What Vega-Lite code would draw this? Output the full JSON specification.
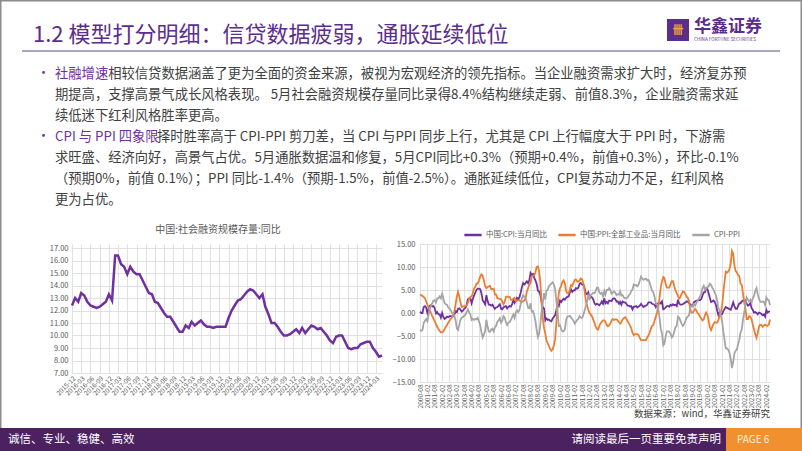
{
"$schema":"https://vega.github.io/schema/vega-lite/v6.json",
"padding":0,
"background":"white",
"spacing":38,
"bounds":"flush",
"resolve":{"legend":{"color":"independent"}},
"config":{"font":"Noto Sans CJK SC","view":{"stroke":null},
 "axis":{"labelColor":"#595959","labelFont":"Noto Sans CJK SC","gridColor":"#D9D9D9","gridWidth":0.8,"domain":false,"ticks":false,"title":null,"labelOverlap":false,"labelFlush":false,"labelBound":false}},
"hconcat":[
{
 "width":310,"height":129,
 "resolve":{"scale":{"x":"independent","y":"independent"}},
 "layer":[
  {"data":{"values":[{}]},"mark":{"type":"rect","filled":false,"color":"#8C8C8C","strokeWidth":1.5},
   "encoding":{"x":{"datum":0.75,"type":"quantitative","scale":{"domain":[72,382],"nice":false,"zero":false},"axis":null},"x2":{"datum":801.25},
   "y":{"datum":0.75,"type":"quantitative","scale":{"domain":[244,373],"nice":false,"zero":false,"reverse":true},"axis":null},"y2":{"datum":450.25}}},
  {"data":{"values":[{}]},"mark":{"type":"text","align":"left","baseline":"middle","fontSize":22,"color":"#5B2D8E"},
   "encoding":{"x":{"datum":33,"type":"quantitative","scale":{"domain":[72,382],"nice":false,"zero":false},"axis":null},
   "y":{"datum":35,"type":"quantitative","scale":{"domain":[244,373],"nice":false,"zero":false,"reverse":true},"axis":null},
   "text":{"value":"1.2 模型打分明细：信贷数据疲弱，通胀延续低位"}}},
  {"data":{"values":[{}]},"mark":{"type":"rule","color":"#A9A6C6","strokeWidth":2},
   "encoding":{"x":{"datum":22,"type":"quantitative","scale":{"domain":[72,382],"nice":false,"zero":false},"axis":null},"x2":{"datum":780},
   "y":{"datum":51,"type":"quantitative","scale":{"domain":[244,373],"nice":false,"zero":false,"reverse":true},"axis":null}}},
  {"data":{"values":[{}]},"mark":{"type":"rect","color":"#5B2D8E"},
   "encoding":{"x":{"datum":667,"type":"quantitative","scale":{"domain":[72,382],"nice":false,"zero":false},"axis":null},"x2":{"datum":689},
   "y":{"datum":19,"type":"quantitative","scale":{"domain":[244,373],"nice":false,"zero":false,"reverse":true},"axis":null},"y2":{"datum":41}}},
  {"data":{"values":[{}]},"mark":{"type":"text","align":"center","baseline":"middle","fontSize":11,"fontWeight":"bold","color":"#F3A33B"},
   "encoding":{"x":{"datum":678,"type":"quantitative","scale":{"domain":[72,382],"nice":false,"zero":false},"axis":null},
   "y":{"datum":31,"type":"quantitative","scale":{"domain":[244,373],"nice":false,"zero":false,"reverse":true},"axis":null},
   "text":{"value":"卌"}}},
  {"data":{"values":[{}]},"mark":{"type":"text","align":"left","baseline":"middle","fontSize":17,"fontWeight":"bold","color":"#5B2D8E"},
   "encoding":{"x":{"datum":694,"type":"quantitative","scale":{"domain":[72,382],"nice":false,"zero":false},"axis":null},
   "y":{"datum":27,"type":"quantitative","scale":{"domain":[244,373],"nice":false,"zero":false,"reverse":true},"axis":null},
   "text":{"value":"华鑫证券"}}},
  {"data":{"values":[{}]},"mark":{"type":"text","align":"left","baseline":"middle","fontSize":4.6,"color":"#5B2D8E"},
   "encoding":{"x":{"datum":694,"type":"quantitative","scale":{"domain":[72,382],"nice":false,"zero":false},"axis":null},
   "y":{"datum":40,"type":"quantitative","scale":{"domain":[244,373],"nice":false,"zero":false,"reverse":true},"axis":null},
   "text":{"value":"CHINA FORTUNE SECURITIES"}}},
  {"data":{"values":[{}]},"mark":{"type":"text","align":"left","baseline":"top","fontSize":13,"color":"#7030A0"},
   "encoding":{"x":{"datum":37,"type":"quantitative","scale":{"domain":[72,382],"nice":false,"zero":false},"axis":null},
   "y":{"datum":67,"type":"quantitative","scale":{"domain":[244,373],"nice":false,"zero":false,"reverse":true},"axis":null},
   "text":{"value":"•"}}},
  {"data":{"values":[{}]},"mark":{"type":"text","align":"left","baseline":"top","fontSize":13,"color":"#7030A0"},
   "encoding":{"x":{"datum":37,"type":"quantitative","scale":{"domain":[72,382],"nice":false,"zero":false},"axis":null},
   "y":{"datum":130,"type":"quantitative","scale":{"domain":[244,373],"nice":false,"zero":false,"reverse":true},"axis":null},
   "text":{"value":"•"}}},
  {"data":{"values":[{}]},"mark":{"type":"text","align":"left","baseline":"top","fontSize":13.3,"color":"#7030A0"},
   "encoding":{"x":{"datum":55,"type":"quantitative","scale":{"domain":[72,382],"nice":false,"zero":false},"axis":null},
   "y":{"datum":67,"type":"quantitative","scale":{"domain":[244,373],"nice":false,"zero":false,"reverse":true},"axis":null},
   "text":{"value":"社融增速"}}},
  {"data":{"values":[{}]},"mark":{"type":"text","align":"left","baseline":"top","fontSize":13.3,"color":"#404040"},
   "encoding":{"x":{"datum":108.2,"type":"quantitative","scale":{"domain":[72,382],"nice":false,"zero":false},"axis":null},
   "y":{"datum":67,"type":"quantitative","scale":{"domain":[244,373],"nice":false,"zero":false,"reverse":true},"axis":null},
   "text":{"value":"相较信贷数据涵盖了更为全面的资金来源，被视为宏观经济的领先指标。当企业融资需求扩大时，经济复苏预"}}},
  {"data":{"values":[{}]},"mark":{"type":"text","align":"left","baseline":"top","fontSize":13.3,"lineHeight":21,"color":"#404040"},
   "encoding":{"x":{"datum":55,"type":"quantitative","scale":{"domain":[72,382],"nice":false,"zero":false},"axis":null},
   "y":{"datum":88,"type":"quantitative","scale":{"domain":[244,373],"nice":false,"zero":false,"reverse":true},"axis":null},
   "text":{"value":["期提高，支撑高景气成长风格表现。 5月社会融资规模存量同比录得8.4%结构继续走弱、前值8.3%，企业融资需求延","续低迷下红利风格胜率更高。"]}}},
  {"data":{"values":[{}]},"mark":{"type":"text","align":"left","baseline":"top","fontSize":13.3,"color":"#7030A0"},
   "encoding":{"x":{"datum":55,"type":"quantitative","scale":{"domain":[72,382],"nice":false,"zero":false},"axis":null},
   "y":{"datum":130,"type":"quantitative","scale":{"domain":[244,373],"nice":false,"zero":false,"reverse":true},"axis":null},
   "text":{"value":"CPI 与 PPI 四象限"}}},
  {"data":{"values":[{}]},"mark":{"type":"text","align":"left","baseline":"top","fontSize":13.3,"color":"#404040"},
   "encoding":{"x":{"datum":157,"type":"quantitative","scale":{"domain":[72,382],"nice":false,"zero":false},"axis":null},
   "y":{"datum":130,"type":"quantitative","scale":{"domain":[244,373],"nice":false,"zero":false,"reverse":true},"axis":null},
   "text":{"value":"择时胜率高于 CPI-PPI 剪刀差，当 CPI 与PPI 同步上行，尤其是 CPI 上行幅度大于 PPI 时，下游需"}}},
  {"data":{"values":[{}]},"mark":{"type":"text","align":"left","baseline":"top","fontSize":13.3,"lineHeight":21,"color":"#404040"},
   "encoding":{"x":{"datum":55,"type":"quantitative","scale":{"domain":[72,382],"nice":false,"zero":false},"axis":null},
   "y":{"datum":151,"type":"quantitative","scale":{"domain":[244,373],"nice":false,"zero":false,"reverse":true},"axis":null},
   "text":{"value":["求旺盛、经济向好，高景气占优。5月通胀数据温和修复，5月CPI同比+0.3%（预期+0.4%，前值+0.3%），环比-0.1%","（预期0%，前值 0.1%）；PPI 同比-1.4%（预期-1.5%，前值-2.5%）。通胀延续低位，CPI复苏动力不足，红利风格","更为占优。"]}}},
  {"data":{"values":[{}]},"mark":{"type":"text","align":"center","baseline":"middle","fontSize":10,"color":"#595959"},
   "encoding":{"x":{"datum":218,"type":"quantitative","scale":{"domain":[72,382],"nice":false,"zero":false},"axis":null},
   "y":{"datum":230,"type":"quantitative","scale":{"domain":[244,373],"nice":false,"zero":false,"reverse":true},"axis":null},
   "text":{"value":"中国:社会融资规模存量:同比"}}},
  {"data":{"values":[{}]},"mark":{"type":"text","align":"right","baseline":"middle","fontSize":9.5,"color":"#404040"},
   "encoding":{"x":{"datum":770,"type":"quantitative","scale":{"domain":[72,382],"nice":false,"zero":false},"axis":null},
   "y":{"datum":414,"type":"quantitative","scale":{"domain":[244,373],"nice":false,"zero":false,"reverse":true},"axis":null},
   "text":{"value":"数据来源：wind，华鑫证券研究"}}},
  {"data":{"values":[{}]},"mark":{"type":"rect","color":"#4B2160"},
   "encoding":{"x":{"datum":0,"type":"quantitative","scale":{"domain":[72,382],"nice":false,"zero":false},"axis":null},"x2":{"datum":726},
   "y":{"datum":428,"type":"quantitative","scale":{"domain":[244,373],"nice":false,"zero":false,"reverse":true},"axis":null},"y2":{"datum":451}}},
  {"data":{"values":[{}]},"mark":{"type":"rect","color":"#F0902E"},
   "encoding":{"x":{"datum":726,"type":"quantitative","scale":{"domain":[72,382],"nice":false,"zero":false},"axis":null},"x2":{"datum":802},
   "y":{"datum":428,"type":"quantitative","scale":{"domain":[244,373],"nice":false,"zero":false,"reverse":true},"axis":null},"y2":{"datum":451}}},
  {"data":{"values":[{}]},"mark":{"type":"text","align":"left","baseline":"middle","fontSize":11.5,"color":"#FFFFFF"},
   "encoding":{"x":{"datum":8,"type":"quantitative","scale":{"domain":[72,382],"nice":false,"zero":false},"axis":null},
   "y":{"datum":440,"type":"quantitative","scale":{"domain":[244,373],"nice":false,"zero":false,"reverse":true},"axis":null},
   "text":{"value":"诚信、专业、稳健、高效"}}},
  {"data":{"values":[{}]},"mark":{"type":"text","align":"right","baseline":"middle","fontSize":11.5,"color":"#FFFFFF"},
   "encoding":{"x":{"datum":721,"type":"quantitative","scale":{"domain":[72,382],"nice":false,"zero":false},"axis":null},
   "y":{"datum":440,"type":"quantitative","scale":{"domain":[244,373],"nice":false,"zero":false,"reverse":true},"axis":null},
   "text":{"value":"请阅读最后一页重要免责声明"}}},
  {"data":{"values":[{}]},"mark":{"type":"text","align":"left","baseline":"middle","fontSize":10,"color":"#FFF2E0"},
   "encoding":{"x":{"datum":737,"type":"quantitative","scale":{"domain":[72,382],"nice":false,"zero":false},"axis":null},
   "y":{"datum":440,"type":"quantitative","scale":{"domain":[244,373],"nice":false,"zero":false,"reverse":true},"axis":null},
   "text":{"value":"PAGE 6"}}},
  {"data":{"values":[
{"d":"2015-12","v":12.4},{"d":"2016-01","v":13.0},{"d":"2016-02","v":12.7},{"d":"2016-03","v":13.4},{"d":"2016-04","v":13.2},{"d":"2016-05","v":12.7},{"d":"2016-06","v":12.4},{"d":"2016-07","v":12.3},{"d":"2016-08","v":12.2},{"d":"2016-09","v":12.3},{"d":"2016-10","v":12.5},{"d":"2016-11","v":12.7},{"d":"2016-12","v":13.3},
{"d":"2017-01","v":12.8},{"d":"2017-02","v":16.4},{"d":"2017-03","v":16.4},{"d":"2017-04","v":15.7},{"d":"2017-05","v":15.5},{"d":"2017-06","v":14.9},{"d":"2017-07","v":15.5},{"d":"2017-08","v":15.1},{"d":"2017-09","v":14.9},{"d":"2017-10","v":14.9},{"d":"2017-11","v":14.4},{"d":"2017-12","v":13.9},
{"d":"2018-01","v":13.4},{"d":"2018-02","v":13.3},{"d":"2018-03","v":12.7},{"d":"2018-04","v":12.6},{"d":"2018-05","v":12.2},{"d":"2018-06","v":11.8},{"d":"2018-07","v":11.5},{"d":"2018-08","v":11.5},{"d":"2018-09","v":11.1},{"d":"2018-10","v":10.7},{"d":"2018-11","v":10.3},{"d":"2018-12","v":10.3},
{"d":"2019-01","v":10.8},{"d":"2019-02","v":10.6},{"d":"2019-03","v":11.1},{"d":"2019-04","v":10.8},{"d":"2019-05","v":11.0},{"d":"2019-06","v":11.2},{"d":"2019-07","v":10.9},{"d":"2019-08","v":10.7},{"d":"2019-09","v":10.7},{"d":"2019-10","v":10.6},{"d":"2019-11","v":10.7},{"d":"2019-12","v":10.7},
{"d":"2020-01","v":10.7},{"d":"2020-02","v":10.7},{"d":"2020-03","v":11.4},{"d":"2020-04","v":12.0},{"d":"2020-05","v":12.4},{"d":"2020-06","v":12.8},{"d":"2020-07","v":12.9},{"d":"2020-08","v":13.2},{"d":"2020-09","v":13.5},{"d":"2020-10","v":13.7},{"d":"2020-11","v":13.6},{"d":"2020-12","v":13.3},
{"d":"2021-01","v":13.0},{"d":"2021-02","v":13.3},{"d":"2021-03","v":12.3},{"d":"2021-04","v":11.7},{"d":"2021-05","v":11.0},{"d":"2021-06","v":11.0},{"d":"2021-07","v":10.7},{"d":"2021-08","v":10.3},{"d":"2021-09","v":10.0},{"d":"2021-10","v":10.0},{"d":"2021-11","v":10.1},{"d":"2021-12","v":10.3},
{"d":"2022-01","v":10.5},{"d":"2022-02","v":10.2},{"d":"2022-03","v":10.6},{"d":"2022-04","v":10.2},{"d":"2022-05","v":10.5},{"d":"2022-06","v":10.8},{"d":"2022-07","v":10.7},{"d":"2022-08","v":10.5},{"d":"2022-09","v":10.6},{"d":"2022-10","v":10.3},{"d":"2022-11","v":10.0},{"d":"2022-12","v":9.6},
{"d":"2023-01","v":9.4},{"d":"2023-02","v":9.9},{"d":"2023-03","v":10.0},{"d":"2023-04","v":10.0},{"d":"2023-05","v":9.5},{"d":"2023-06","v":9.0},{"d":"2023-07","v":8.9},{"d":"2023-08","v":9.0},{"d":"2023-09","v":9.0},{"d":"2023-10","v":9.3},{"d":"2023-11","v":9.4},{"d":"2023-12","v":9.5},
{"d":"2024-01","v":9.5},{"d":"2024-02","v":9.0},{"d":"2024-03","v":8.7},{"d":"2024-04","v":8.3},{"d":"2024-05","v":8.4}
],"format":{"parse":{"d":"date:'%Y-%m'"}}},
   "mark":{"type":"line","color":"#7030A0","strokeWidth":2.5},
   "encoding":{
    "x":{"field":"d","type":"temporal","scale":{"nice":false},"axis":{"orient":"bottom","format":"%Y-%m","labelAngle":-45,"labelFontSize":6.5,"labelPadding":2,"grid":true,
     "values":[{"year":2015,"month":12},{"year":2016,"month":3},{"year":2016,"month":6},{"year":2016,"month":9},{"year":2016,"month":12},{"year":2017,"month":3},{"year":2017,"month":6},{"year":2017,"month":9},{"year":2017,"month":12},{"year":2018,"month":3},{"year":2018,"month":6},{"year":2018,"month":9},{"year":2018,"month":12},{"year":2019,"month":3},{"year":2019,"month":6},{"year":2019,"month":9},{"year":2019,"month":12},{"year":2020,"month":3},{"year":2020,"month":6},{"year":2020,"month":9},{"year":2020,"month":12},{"year":2021,"month":3},{"year":2021,"month":6},{"year":2021,"month":9},{"year":2021,"month":12},{"year":2022,"month":3},{"year":2022,"month":6},{"year":2022,"month":9},{"year":2022,"month":12},{"year":2023,"month":3},{"year":2023,"month":6},{"year":2023,"month":9},{"year":2023,"month":12},{"year":2024,"month":3}]}},
    "y":{"field":"v","type":"quantitative","scale":{"domain":[7,17.32],"nice":false,"zero":false},"axis":{"orient":"left","values":[7,8,9,10,11,12,13,14,15,16,17],"format":".2f","labelFontSize":7.5,"labelPadding":4,"grid":true}}
   }}
 ]
},
{
 "width":350,"height":138,
 "data":{"values":[
{"d":"2000-08","c":0.3,"p":4.0,"g":-3.7},{"d":"2000-09","c":0.0,"p":3.9,"g":-3.9},{"d":"2000-10","c":0.0,"p":3.7,"g":-3.7},{"d":"2000-11","c":1.3,"p":3.5,"g":-2.2},{"d":"2000-12","c":1.5,"p":3.2,"g":-1.7},
{"d":"2001-01","c":1.2,"p":2.5,"g":-1.3},{"d":"2001-02","c":0.0,"p":1.8,"g":-1.8},{"d":"2001-03","c":0.8,"p":1.2,"g":-0.4},{"d":"2001-04","c":1.6,"p":0.6,"g":1.0},{"d":"2001-05","c":1.7,"p":0.0,"g":1.7},{"d":"2001-06","c":1.4,"p":-0.7,"g":2.1},{"d":"2001-07","c":1.5,"p":-1.2,"g":2.7},{"d":"2001-08","c":1.0,"p":-1.8,"g":2.8},{"d":"2001-09","c":-0.1,"p":-2.4,"g":2.3},{"d":"2001-10","c":0.2,"p":-3.0,"g":3.2},{"d":"2001-11","c":-0.3,"p":-3.5,"g":3.2},{"d":"2001-12","c":-0.3,"p":-3.9,"g":3.6},
{"d":"2002-01","c":-1.0,"p":-4.2,"g":3.2},{"d":"2002-02","c":0.0,"p":-4.2,"g":4.2},{"d":"2002-03","c":-0.8,"p":-4.0,"g":3.2},{"d":"2002-04","c":-1.3,"p":-3.5,"g":2.2},{"d":"2002-05","c":-1.1,"p":-3.0,"g":1.9},{"d":"2002-06","c":-0.8,"p":-2.6,"g":1.8},{"d":"2002-07","c":-0.9,"p":-2.1,"g":1.2},{"d":"2002-08","c":-0.7,"p":-1.7,"g":1.0},{"d":"2002-09","c":-0.7,"p":-1.3,"g":0.6},{"d":"2002-10","c":-0.8,"p":-0.9,"g":0.1},{"d":"2002-11","c":-0.7,"p":-0.4,"g":-0.3},{"d":"2002-12","c":-0.4,"p":0.3,"g":-0.7},
{"d":"2003-01","c":0.4,"p":2.0,"g":-1.6},{"d":"2003-02","c":0.2,"p":3.6,"g":-3.4},{"d":"2003-03","c":0.9,"p":4.6,"g":-3.7},{"d":"2003-04","c":1.0,"p":3.6,"g":-2.6},{"d":"2003-05","c":0.7,"p":2.2,"g":-1.5},{"d":"2003-06","c":0.3,"p":1.3,"g":-1.0},{"d":"2003-07","c":0.5,"p":1.4,"g":-0.9},{"d":"2003-08","c":0.9,"p":1.5,"g":-0.6},{"d":"2003-09","c":1.1,"p":1.5,"g":-0.4},{"d":"2003-10","c":1.8,"p":1.6,"g":0.2},{"d":"2003-11","c":3.0,"p":2.2,"g":0.8},{"d":"2003-12","c":3.2,"p":3.0,"g":0.2},
{"d":"2004-01","c":3.2,"p":3.5,"g":-0.3},{"d":"2004-02","c":2.1,"p":3.6,"g":-1.5},{"d":"2004-03","c":3.0,"p":4.3,"g":-1.3},{"d":"2004-04","c":3.8,"p":5.3,"g":-1.5},{"d":"2004-05","c":4.4,"p":5.7,"g":-1.3},{"d":"2004-06","c":5.0,"p":6.4,"g":-1.4},{"d":"2004-07","c":5.3,"p":6.4,"g":-1.1},{"d":"2004-08","c":5.3,"p":7.1,"g":-1.8},{"d":"2004-09","c":5.2,"p":7.9,"g":-2.7},{"d":"2004-10","c":4.3,"p":8.4,"g":-4.1},{"d":"2004-11","c":2.8,"p":8.1,"g":-5.3},{"d":"2004-12","c":2.4,"p":7.1,"g":-4.7},
{"d":"2005-01","c":1.9,"p":5.8,"g":-3.9},{"d":"2005-02","c":3.9,"p":5.4,"g":-1.5},{"d":"2005-03","c":2.7,"p":5.6,"g":-2.9},{"d":"2005-04","c":1.8,"p":5.8,"g":-4.0},{"d":"2005-05","c":1.8,"p":5.9,"g":-4.1},{"d":"2005-06","c":1.6,"p":5.2,"g":-3.6},{"d":"2005-07","c":1.8,"p":5.2,"g":-3.4},{"d":"2005-08","c":1.3,"p":5.3,"g":-4.0},{"d":"2005-09","c":0.9,"p":4.0,"g":-3.1},{"d":"2005-10","c":1.2,"p":4.0,"g":-2.8},{"d":"2005-11","c":1.3,"p":3.2,"g":-1.9},{"d":"2005-12","c":1.6,"p":3.2,"g":-1.6},
{"d":"2006-01","c":1.9,"p":3.0,"g":-1.1},{"d":"2006-02","c":0.9,"p":3.0,"g":-2.1},{"d":"2006-03","c":0.8,"p":2.5,"g":-1.7},{"d":"2006-04","c":1.2,"p":1.9,"g":-0.7},{"d":"2006-05","c":1.4,"p":2.4,"g":-1.0},{"d":"2006-06","c":1.5,"p":3.5,"g":-2.0},{"d":"2006-07","c":1.0,"p":3.6,"g":-2.6},{"d":"2006-08","c":1.3,"p":3.4,"g":-2.1},{"d":"2006-09","c":1.5,"p":3.5,"g":-2.0},{"d":"2006-10","c":1.4,"p":2.9,"g":-1.5},{"d":"2006-11","c":1.9,"p":2.8,"g":-0.9},{"d":"2006-12","c":2.8,"p":3.1,"g":-0.3},
{"d":"2007-01","c":2.2,"p":3.3,"g":-1.1},{"d":"2007-02","c":2.7,"p":2.6,"g":0.1},{"d":"2007-03","c":3.3,"p":2.7,"g":0.6},{"d":"2007-04","c":3.0,"p":2.8,"g":0.2},{"d":"2007-05","c":3.4,"p":2.8,"g":0.6},{"d":"2007-06","c":4.4,"p":2.5,"g":1.9},{"d":"2007-07","c":5.6,"p":2.4,"g":3.2},{"d":"2007-08","c":6.5,"p":2.6,"g":3.9},{"d":"2007-09","c":6.2,"p":2.7,"g":3.5},{"d":"2007-10","c":6.5,"p":3.2,"g":3.3},{"d":"2007-11","c":6.9,"p":4.6,"g":2.3},{"d":"2007-12","c":6.5,"p":5.4,"g":1.1},
{"d":"2008-01","c":7.1,"p":6.1,"g":1.0},{"d":"2008-02","c":8.7,"p":6.6,"g":2.1},{"d":"2008-03","c":8.3,"p":8.0,"g":0.3},{"d":"2008-04","c":8.5,"p":8.1,"g":0.4},{"d":"2008-05","c":7.7,"p":8.2,"g":-0.5},{"d":"2008-06","c":7.1,"p":8.8,"g":-1.7},{"d":"2008-07","c":6.3,"p":10.0,"g":-3.7},{"d":"2008-08","c":4.9,"p":10.1,"g":-5.2},{"d":"2008-09","c":4.6,"p":9.1,"g":-4.5},{"d":"2008-10","c":4.0,"p":6.6,"g":-2.6},{"d":"2008-11","c":2.4,"p":2.0,"g":0.4},{"d":"2008-12","c":1.2,"p":-1.1,"g":2.3},
{"d":"2009-01","c":1.0,"p":-3.3,"g":4.3},{"d":"2009-02","c":-1.6,"p":-4.5,"g":2.9},{"d":"2009-03","c":-1.2,"p":-6.0,"g":4.8},{"d":"2009-04","c":-1.5,"p":-6.6,"g":5.1},{"d":"2009-05","c":-1.4,"p":-7.2,"g":5.8},{"d":"2009-06","c":-1.7,"p":-7.8,"g":6.1},{"d":"2009-07","c":-1.8,"p":-8.2,"g":6.4},{"d":"2009-08","c":-1.2,"p":-7.9,"g":6.7},{"d":"2009-09","c":-0.8,"p":-7.0,"g":6.2},{"d":"2009-10","c":-0.5,"p":-5.8,"g":5.3},{"d":"2009-11","c":0.6,"p":-2.1,"g":2.7},{"d":"2009-12","c":1.9,"p":1.7,"g":0.2},
{"d":"2010-01","c":1.5,"p":4.3,"g":-2.8},{"d":"2010-02","c":2.7,"p":5.4,"g":-2.7},{"d":"2010-03","c":2.4,"p":5.9,"g":-3.5},{"d":"2010-04","c":2.8,"p":6.8,"g":-4.0},{"d":"2010-05","c":3.1,"p":7.1,"g":-4.0},{"d":"2010-06","c":2.9,"p":6.4,"g":-3.5},{"d":"2010-07","c":3.3,"p":4.8,"g":-1.5},{"d":"2010-08","c":3.5,"p":4.3,"g":-0.8},{"d":"2010-09","c":3.6,"p":4.3,"g":-0.7},{"d":"2010-10","c":4.4,"p":5.0,"g":-0.6},{"d":"2010-11","c":5.1,"p":6.1,"g":-1.0},{"d":"2010-12","c":4.6,"p":5.9,"g":-1.3},
{"d":"2011-01","c":4.9,"p":6.6,"g":-1.7},{"d":"2011-02","c":4.9,"p":7.2,"g":-2.3},{"d":"2011-03","c":5.4,"p":7.3,"g":-1.9},{"d":"2011-04","c":5.3,"p":6.8,"g":-1.5},{"d":"2011-05","c":5.5,"p":6.8,"g":-1.3},{"d":"2011-06","c":6.4,"p":7.1,"g":-0.7},{"d":"2011-07","c":6.5,"p":7.5,"g":-1.0},{"d":"2011-08","c":6.2,"p":7.3,"g":-1.1},{"d":"2011-09","c":6.1,"p":6.5,"g":-0.4},{"d":"2011-10","c":5.5,"p":5.0,"g":0.5},{"d":"2011-11","c":4.2,"p":2.7,"g":1.5},{"d":"2011-12","c":4.1,"p":1.7,"g":2.4},
{"d":"2012-01","c":4.5,"p":0.7,"g":3.8},{"d":"2012-02","c":3.2,"p":0.0,"g":3.2},{"d":"2012-03","c":3.6,"p":-0.3,"g":3.9},{"d":"2012-04","c":3.4,"p":-0.7,"g":4.1},{"d":"2012-05","c":3.0,"p":-1.4,"g":4.4},{"d":"2012-06","c":2.2,"p":-2.1,"g":4.3},{"d":"2012-07","c":1.8,"p":-2.9,"g":4.7},{"d":"2012-08","c":2.0,"p":-3.5,"g":5.5},{"d":"2012-09","c":1.9,"p":-3.6,"g":5.5},{"d":"2012-10","c":1.7,"p":-2.8,"g":4.5},{"d":"2012-11","c":2.0,"p":-2.2,"g":4.2},{"d":"2012-12","c":2.5,"p":-1.9,"g":4.4},
{"d":"2013-01","c":2.0,"p":-1.6,"g":3.6},{"d":"2013-02","c":3.2,"p":-1.6,"g":4.8},{"d":"2013-03","c":2.1,"p":-1.9,"g":4.0},{"d":"2013-04","c":2.4,"p":-2.6,"g":5.0},{"d":"2013-05","c":2.1,"p":-2.9,"g":5.0},{"d":"2013-06","c":2.7,"p":-2.7,"g":5.4},{"d":"2013-07","c":2.7,"p":-2.3,"g":5.0},{"d":"2013-08","c":2.6,"p":-1.6,"g":4.2},{"d":"2013-09","c":3.1,"p":-1.3,"g":4.4},{"d":"2013-10","c":3.2,"p":-1.5,"g":4.7},{"d":"2013-11","c":3.0,"p":-1.4,"g":4.4},{"d":"2013-12","c":2.5,"p":-1.4,"g":3.9},
{"d":"2014-01","c":2.5,"p":-1.6,"g":4.1},{"d":"2014-02","c":2.0,"p":-2.0,"g":4.0},{"d":"2014-03","c":2.4,"p":-2.3,"g":4.7},{"d":"2014-04","c":1.8,"p":-2.0,"g":3.8},{"d":"2014-05","c":2.5,"p":-1.4,"g":3.9},{"d":"2014-06","c":2.3,"p":-1.1,"g":3.4},{"d":"2014-07","c":2.3,"p":-0.9,"g":3.2},{"d":"2014-08","c":2.0,"p":-1.2,"g":3.2},{"d":"2014-09","c":1.6,"p":-1.8,"g":3.4},{"d":"2014-10","c":1.6,"p":-2.2,"g":3.8},{"d":"2014-11","c":1.4,"p":-2.7,"g":4.1},{"d":"2014-12","c":1.5,"p":-3.3,"g":4.8},
{"d":"2015-01","c":0.8,"p":-4.3,"g":5.1},{"d":"2015-02","c":1.4,"p":-4.8,"g":6.2},{"d":"2015-03","c":1.4,"p":-4.6,"g":6.0},{"d":"2015-04","c":1.5,"p":-4.6,"g":6.1},{"d":"2015-05","c":1.2,"p":-4.6,"g":5.8},{"d":"2015-06","c":1.4,"p":-4.8,"g":6.2},{"d":"2015-07","c":1.6,"p":-5.4,"g":7.0},{"d":"2015-08","c":2.0,"p":-5.9,"g":7.9},{"d":"2015-09","c":1.6,"p":-5.9,"g":7.5},{"d":"2015-10","c":1.3,"p":-5.9,"g":7.2},{"d":"2015-11","c":1.5,"p":-5.9,"g":7.4},{"d":"2015-12","c":1.6,"p":-5.9,"g":7.5},
{"d":"2016-01","c":1.8,"p":-5.3,"g":7.1},{"d":"2016-02","c":2.3,"p":-4.9,"g":7.2},{"d":"2016-03","c":2.3,"p":-4.3,"g":6.6},{"d":"2016-04","c":2.3,"p":-3.4,"g":5.7},{"d":"2016-05","c":2.0,"p":-2.8,"g":4.8},{"d":"2016-06","c":1.9,"p":-2.6,"g":4.5},{"d":"2016-07","c":1.8,"p":-1.7,"g":3.5},{"d":"2016-08","c":1.3,"p":-0.8,"g":2.1},{"d":"2016-09","c":1.9,"p":0.1,"g":1.8},{"d":"2016-10","c":2.1,"p":1.2,"g":0.9},{"d":"2016-11","c":2.3,"p":3.3,"g":-1.0},{"d":"2016-12","c":2.1,"p":5.5,"g":-3.4},
{"d":"2017-01","c":2.5,"p":6.9,"g":-4.4},{"d":"2017-02","c":0.8,"p":7.8,"g":-7.0},{"d":"2017-03","c":0.9,"p":7.6,"g":-6.7},{"d":"2017-04","c":1.2,"p":6.4,"g":-5.2},{"d":"2017-05","c":1.5,"p":5.5,"g":-4.0},{"d":"2017-06","c":1.5,"p":5.5,"g":-4.0},{"d":"2017-07","c":1.4,"p":5.5,"g":-4.1},{"d":"2017-08","c":1.8,"p":6.3,"g":-4.5},{"d":"2017-09","c":1.6,"p":6.9,"g":-5.3},{"d":"2017-10","c":1.9,"p":6.9,"g":-5.0},{"d":"2017-11","c":1.7,"p":5.8,"g":-4.1},{"d":"2017-12","c":1.8,"p":4.9,"g":-3.1},
{"d":"2018-01","c":1.5,"p":4.3,"g":-2.8},{"d":"2018-02","c":2.9,"p":3.7,"g":-0.8},{"d":"2018-03","c":2.1,"p":3.1,"g":-1.0},{"d":"2018-04","c":1.8,"p":3.4,"g":-1.6},{"d":"2018-05","c":1.8,"p":4.1,"g":-2.3},{"d":"2018-06","c":1.9,"p":4.7,"g":-2.8},{"d":"2018-07","c":2.1,"p":4.6,"g":-2.5},{"d":"2018-08","c":2.3,"p":4.1,"g":-1.8},{"d":"2018-09","c":2.5,"p":3.6,"g":-1.1},{"d":"2018-10","c":2.5,"p":3.3,"g":-0.8},{"d":"2018-11","c":2.2,"p":2.7,"g":-0.5},{"d":"2018-12","c":1.9,"p":0.9,"g":1.0},
{"d":"2019-01","c":1.7,"p":0.1,"g":1.6},{"d":"2019-02","c":1.5,"p":0.1,"g":1.4},{"d":"2019-03","c":2.3,"p":0.4,"g":1.9},{"d":"2019-04","c":2.5,"p":0.9,"g":1.6},{"d":"2019-05","c":2.7,"p":0.6,"g":2.1},{"d":"2019-06","c":2.7,"p":0.0,"g":2.7},{"d":"2019-07","c":2.8,"p":-0.3,"g":3.1},{"d":"2019-08","c":2.8,"p":-0.8,"g":3.6},{"d":"2019-09","c":3.0,"p":-1.2,"g":4.2},{"d":"2019-10","c":3.8,"p":-1.6,"g":5.4},{"d":"2019-11","c":4.5,"p":-1.4,"g":5.9},{"d":"2019-12","c":4.5,"p":-0.5,"g":5.0},
{"d":"2020-01","c":5.4,"p":0.1,"g":5.3},{"d":"2020-02","c":5.2,"p":-0.4,"g":5.6},{"d":"2020-03","c":4.3,"p":-1.5,"g":5.8},{"d":"2020-04","c":3.3,"p":-3.1,"g":6.4},{"d":"2020-05","c":2.4,"p":-3.7,"g":6.1},{"d":"2020-06","c":2.5,"p":-3.0,"g":5.5},{"d":"2020-07","c":2.7,"p":-2.4,"g":5.1},{"d":"2020-08","c":2.4,"p":-2.0,"g":4.4},{"d":"2020-09","c":1.7,"p":-2.1,"g":3.8},{"d":"2020-10","c":0.5,"p":-2.1,"g":2.6},{"d":"2020-11","c":-0.5,"p":-1.5,"g":1.0},{"d":"2020-12","c":0.2,"p":-0.4,"g":0.6},
{"d":"2021-01","c":-0.3,"p":0.3,"g":-0.6},{"d":"2021-02","c":-0.2,"p":1.7,"g":-1.9},{"d":"2021-03","c":0.4,"p":4.4,"g":-4.0},{"d":"2021-04","c":0.9,"p":6.8,"g":-5.9},{"d":"2021-05","c":1.3,"p":9.0,"g":-7.7},{"d":"2021-06","c":1.1,"p":8.8,"g":-7.7},{"d":"2021-07","c":1.0,"p":9.0,"g":-8.0},{"d":"2021-08","c":0.8,"p":9.5,"g":-8.7},{"d":"2021-09","c":0.7,"p":10.7,"g":-10.0},{"d":"2021-10","c":1.5,"p":13.5,"g":-12.0},{"d":"2021-11","c":2.3,"p":12.9,"g":-10.6},{"d":"2021-12","c":1.5,"p":10.3,"g":-8.8},
{"d":"2022-01","c":0.9,"p":9.1,"g":-8.2},{"d":"2022-02","c":0.9,"p":8.8,"g":-7.9},{"d":"2022-03","c":1.5,"p":8.3,"g":-6.8},{"d":"2022-04","c":2.1,"p":8.0,"g":-5.9},{"d":"2022-05","c":2.1,"p":6.4,"g":-4.3},{"d":"2022-06","c":2.5,"p":6.1,"g":-3.6},{"d":"2022-07","c":2.7,"p":4.2,"g":-1.5},{"d":"2022-08","c":2.5,"p":2.3,"g":0.2},{"d":"2022-09","c":2.8,"p":0.9,"g":1.9},{"d":"2022-10","c":2.1,"p":-1.3,"g":3.4},{"d":"2022-11","c":1.6,"p":-1.3,"g":2.9},{"d":"2022-12","c":1.8,"p":-0.7,"g":2.5},
{"d":"2023-01","c":2.1,"p":-0.8,"g":2.9},{"d":"2023-02","c":1.0,"p":-1.4,"g":2.4},{"d":"2023-03","c":0.7,"p":-2.5,"g":3.2},{"d":"2023-04","c":0.1,"p":-3.6,"g":3.7},{"d":"2023-05","c":0.2,"p":-4.6,"g":4.8},{"d":"2023-06","c":0.0,"p":-5.4,"g":5.4},{"d":"2023-07","c":-0.3,"p":-4.4,"g":4.1},{"d":"2023-08","c":0.1,"p":-3.0,"g":3.1},{"d":"2023-09","c":0.0,"p":-2.5,"g":2.5},{"d":"2023-10","c":-0.2,"p":-2.6,"g":2.4},{"d":"2023-11","c":-0.5,"p":-3.0,"g":2.5},{"d":"2023-12","c":-0.3,"p":-2.7,"g":2.4},
{"d":"2024-01","c":-0.8,"p":-2.5,"g":1.7},{"d":"2024-02","c":0.7,"p":-2.7,"g":3.4},{"d":"2024-03","c":0.1,"p":-2.8,"g":2.9},{"d":"2024-04","c":0.3,"p":-2.5,"g":2.8},{"d":"2024-05","c":0.3,"p":-1.4,"g":1.7}
 ],"format":{"parse":{"d":"date:'%Y-%m'"}}},
 "transform":[{"fold":["c","p","g"],"as":["k","v"]}],
 "mark":{"type":"line","strokeWidth":1.8},
 "encoding":{
  "x":{"field":"d","type":"temporal","scale":{"nice":false},"axis":{"format":"%Y-%m","labelAngle":-90,"labelFontSize":6.5,"labelPadding":2,"grid":true,
   "values":[{"year":2000,"month":8},{"year":2001,"month":2},{"year":2001,"month":8},{"year":2002,"month":2},{"year":2002,"month":8},{"year":2003,"month":2},{"year":2003,"month":8},{"year":2004,"month":2},{"year":2004,"month":8},{"year":2005,"month":2},{"year":2005,"month":8},{"year":2006,"month":2},{"year":2006,"month":8},{"year":2007,"month":2},{"year":2007,"month":8},{"year":2008,"month":2},{"year":2008,"month":8},{"year":2009,"month":2},{"year":2009,"month":8},{"year":2010,"month":2},{"year":2010,"month":8},{"year":2011,"month":2},{"year":2011,"month":8},{"year":2012,"month":2},{"year":2012,"month":8},{"year":2013,"month":2},{"year":2013,"month":8},{"year":2014,"month":2},{"year":2014,"month":8},{"year":2015,"month":2},{"year":2015,"month":8},{"year":2016,"month":2},{"year":2016,"month":8},{"year":2017,"month":2},{"year":2017,"month":8},{"year":2018,"month":2},{"year":2018,"month":8},{"year":2019,"month":2},{"year":2019,"month":8},{"year":2020,"month":2},{"year":2020,"month":8},{"year":2021,"month":2},{"year":2021,"month":8},{"year":2022,"month":2},{"year":2022,"month":8},{"year":2023,"month":2},{"year":2023,"month":8},{"year":2024,"month":2}]}},
  "y":{"field":"v","type":"quantitative","scale":{"domain":[-15,15],"nice":false},"axis":{"values":[-15,-10,-5,0,5,10,15],"format":".2f","labelFontSize":7.5,"labelPadding":5,"grid":true}},
  "color":{"field":"k","type":"nominal","scale":{"domain":["c","p","g"],"range":["#7030A0","#ED7D31","#A5A5A5"]},
   "legend":{"orient":"none","legendX":43,"legendY":-19,"direction":"horizontal","title":null,"symbolType":"stroke","symbolStrokeWidth":2.5,"symbolSize":300,"labelFontSize":7.5,"labelColor":"#595959","columnPadding":6,"labelOffset":3,
    "labelExpr":"datum.label == 'c' ? '中国:CPI:当月同比' : datum.label == 'p' ? '中国:PPI:全部工业品:当月同比' : 'CPI-PPI'"}}
 }
}
]
}
